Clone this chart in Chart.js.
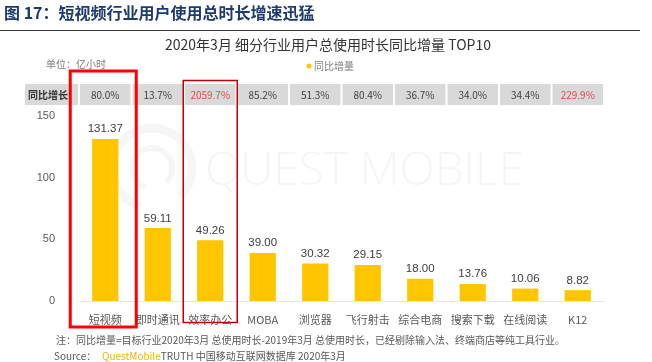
<!DOCTYPE html>
<html>
<head>
<meta charset="utf-8">
<script src="https://cdn.jsdelivr.net/npm/chart.js@4.4.1/dist/chart.umd.min.js"></script>
<style>
  html, body { margin: 0; padding: 0; background: #fff; }
  #wrap { position: relative; width: 652px; height: 362px; }
</style>
</head>
<body>
<div id="wrap"><canvas id="chart" width="652" height="362"></canvas></div>
<script>
const categories = ['短视频', '即时通讯', '效率办公', 'MOBA', '浏览器', '飞行射击', '综合电商', '搜索下载', '在线阅读', 'K12'];
const increments = [131.37, 59.11, 49.26, 39.00, 30.32, 29.15, 18.00, 13.76, 10.06, 8.82];
const growthRates = ['80.0%', '13.7%', '2059.7%', '85.2%', '51.3%', '80.4%', '36.7%', '34.0%', '34.4%', '229.9%'];
const redRates = [2, 9];
const yTicks = [0, 50, 100, 150];

const CJK = '"Noto Sans CJK SC", "Noto Sans", sans-serif';

const decorations = {
  id: 'decorations',
  beforeDraw(chart) {
    const ctx = chart.ctx;
    const x = chart.scales.x;
    ctx.save();

    // watermark
    ctx.fillStyle = 'rgba(0,0,0,0.04)';
    ctx.font = '300 46px "Open Sans", sans-serif';
    ctx.textBaseline = 'middle';
    ctx.textAlign = 'left';
    ctx.fillText('QUEST MOBILE', 205, 172);
    ctx.strokeStyle = 'rgba(0,0,0,0.035)';
    ctx.lineWidth = 9;
    ctx.beginPath();
    ctx.arc(152, 168, 40, Math.PI * 0.6, Math.PI * 2.25);
    ctx.stroke();
    ctx.lineWidth = 6;
    ctx.beginPath();
    ctx.arc(152, 168, 20, Math.PI * 0.6, Math.PI * 2.25);
    ctx.stroke();

    // header
    ctx.fillStyle = '#1f3a6e';
    ctx.font = 'bold 16px ' + CJK;
    ctx.textAlign = 'left';
    ctx.fillText('图 17：短视频行业用户使用总时长增速迅猛', 4, 13);
    ctx.strokeStyle = '#333';
    ctx.lineWidth = 1;
    ctx.beginPath();
    ctx.moveTo(0, 30.5);
    ctx.lineTo(640, 30.5);
    ctx.stroke();

    // chart title
    ctx.fillStyle = '#333';
    ctx.font = '14px ' + CJK;
    ctx.textAlign = 'center';
    ctx.fillText('2020年3月 细分行业用户总使用时长同比增量 TOP10', 328, 45);

    // unit + legend
    ctx.fillStyle = '#7f7f7f';
    ctx.font = '10px ' + CJK;
    ctx.textAlign = 'left';
    ctx.fillText('单位：亿小时', 46, 64);
    ctx.fillText('同比增量', 314, 66);
    ctx.fillStyle = '#ffc600';
    ctx.beginPath();
    ctx.arc(309, 66, 2.5, 0, Math.PI * 2);
    ctx.fill();

    // growth row
    const step = x.getPixelForValue(1) - x.getPixelForValue(0);
    ctx.fillStyle = '#d9d9d9';
    ctx.fillRect(25, 84, x.getPixelForValue(0) - step / 2 - 25 - 1, 21);
    ctx.fillStyle = '#333';
    ctx.font = 'bold 10px ' + CJK;
    ctx.fillText('同比增长', 28, 95);
    ctx.font = '10px ' + CJK;
    ctx.textAlign = 'center';
    growthRates.forEach((r, i) => {
      const cx = x.getPixelForValue(i);
      ctx.fillStyle = '#d9d9d9';
      ctx.fillRect(cx - step / 2 + 1, 84, step - 2, 21);
      ctx.fillStyle = redRates.includes(i) ? '#e8474c' : '#404040';
      ctx.fillText(r, cx, 95);
    });

    // notes
    ctx.textAlign = 'left';
    ctx.fillStyle = '#595959';
    ctx.font = '10px ' + CJK;
    ctx.fillText('注：同比增量=目标行业2020年3月 总使用时长-2019年3月 总使用时长，已经剔除输入法、终端商店等纯工具行业。', 56, 340);
    ctx.fillText('Source：', 54, 356);
    ctx.fillStyle = '#f0b400';
    ctx.fillText('QuestMobile', 102, 356);
    ctx.fillStyle = '#595959';
    ctx.fillText('TRUTH 中国移动互联网数据库 2020年3月', 102 + ctx.measureText('QuestMobile').width, 356);
    ctx.restore();
  },
  afterDatasetsDraw(chart) {
    const ctx = chart.ctx;
    const x = chart.scales.x;
    ctx.save();
    // value labels
    ctx.fillStyle = '#404040';
    ctx.font = '11.5px "Liberation Sans", Arial, sans-serif';
    ctx.textAlign = 'center';
    ctx.textBaseline = 'bottom';
    chart.getDatasetMeta(0).data.forEach((bar, i) => {
      ctx.fillText(increments[i].toFixed(2), bar.x, bar.y - 4);
    });
    // highlight boxes
    const c0 = x.getPixelForValue(0);
    ctx.strokeStyle = '#ff0000';
    ctx.lineWidth = 3;
    ctx.strokeRect(c0 - 35, 71, 66, 256);
    const c2 = x.getPixelForValue(2);
    ctx.strokeStyle = '#c00000';
    ctx.lineWidth = 1.5;
    ctx.strokeRect(c2 - 27, 80.5, 54, 242);
    ctx.restore();
  }
};

new Chart(document.getElementById('chart'), {
  type: 'bar',
  data: {
    labels: categories,
    datasets: [{
      label: '同比增量',
      data: increments,
      backgroundColor: '#ffc600',
      barPercentage: 0.5,
      categoryPercentage: 1
    }]
  },
  options: {
    responsive: false,
    animation: false,
    layout: { padding: { top: 116, bottom: 30, left: 0, right: 48 } },
    plugins: { legend: { display: false }, tooltip: { enabled: false } },
    scales: {
      x: {
        grid: { display: false },
        border: { color: '#e6e6e6' },
        ticks: { color: '#595959', font: { size: 11, family: CJK }, padding: 4, maxRotation: 0 },
        afterFit(scale) { scale.height = 31; }
      },
      y: {
        min: 0,
        max: 150,
        afterBuildTicks(scale) { scale.ticks = yTicks.map(v => ({ value: v })); },
        grid: { display: false },
        border: { display: false },
        ticks: { color: '#595959', font: { size: 11, family: '"Liberation Sans", Arial, sans-serif' }, padding: 16 },
        afterFit(scale) { scale.width = 79; }
      }
    }
  },
  plugins: [decorations]
});
</script>
</body>
</html>
